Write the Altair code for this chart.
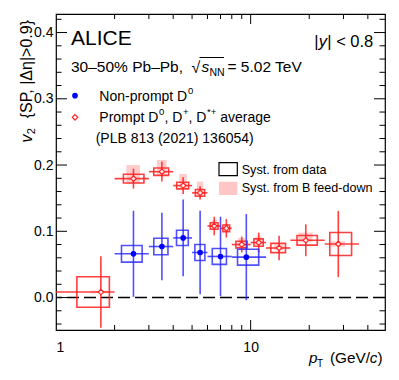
import altair as alt
import pandas as pd

FONT = "Liberation Sans"

# ---------------- data ----------------
# Non-prompt D0
np_pt = [2.5, 3.5, 4.5, 5.5, 7.0, 9.5]
np_lo = [2, 3, 4, 5, 6, 8]
np_hi = [3, 4, 5, 6, 8, 12]
np_v2 = [0.066, 0.077, 0.090, 0.068, 0.062, 0.061]
np_stat = [0.065, 0.051, 0.058, 0.063, 0.060, 0.065]
np_syst = [0.0125, 0.0125, 0.0115, 0.012, 0.012, 0.012]
np_box_lo = [2.17, 3.18, 4.16, 5.17, 6.35, 8.56]
np_box_hi = [2.77, 3.76, 4.78, 5.82, 7.51, 11.0]

# Prompt D0, D+, D*+ average (PLB 813 (2021) 136054)
p_pt = [1.7, 2.5, 3.5, 4.5, 5.5, 6.5, 7.5, 9.0, 11.0, 14.0, 19.2, 28.2]
p_lo = [1, 2, 3, 4, 5, 6, 7, 8, 10, 12, 16, 24]
p_hi = [2, 3, 4, 5, 6, 7, 8, 10, 12, 16, 24, 36]
p_v2 = [0.0083, 0.1795, 0.190, 0.169, 0.158, 0.108, 0.1045, 0.080, 0.083, 0.0748, 0.0864, 0.0808]
p_stat = [0.054, 0.015, 0.015, 0.0126, 0.010, 0.014, 0.014, 0.012, 0.015, 0.0184, 0.024, 0.050]
p_syst = [0.023, 0.0066, 0.0056, 0.005, 0.005, 0.005, 0.005, 0.005, 0.0055, 0.007, 0.0073, 0.0174]
p_box_lo = [1.28, 2.22, 3.18, 4.17, 5.2, 6.2, 7.2, 8.4, 10.4, 12.7, 17.3, 25.5]
p_box_hi = [1.88, 2.83, 3.79, 4.80, 5.8, 6.8, 7.8, 9.6, 11.6, 15.1, 22.0, 33.0]
p_fd_up = [0.002, 0.0205, 0.0177, 0.0176, 0.017, 0.009, 0.0065, 0.010, 0.009, 0.005, 0.0116, 0.004]
p_fd_dn = [0.002, 0.0075, 0.006, 0.005, 0.005, 0.0056, 0.0055, 0.004, 0.004, 0.003, 0.003, 0.004]

x_major = [10]
x_minor = [2, 3, 4, 5, 6, 7, 8, 9, 20, 30, 40]
y_major = [0.0, 0.1, 0.2, 0.3, 0.4]
y_minor = [-0.04, -0.02, 0.02, 0.04, 0.06, 0.08, 0.12, 0.14, 0.16, 0.18,
           0.22, 0.24, 0.26, 0.28, 0.32, 0.34, 0.36, 0.38, 0.42]

# ---------------- tables ----------------
npdf = pd.DataFrame({"pt": np_pt, "lo": np_lo, "hi": np_hi, "v2": np_v2,
                     "bl": np_box_lo, "bh": np_box_hi})
npdf["elo"] = npdf["v2"] - pd.Series(np_stat)
npdf["ehi"] = npdf["v2"] + pd.Series(np_stat)
npdf["slo"] = npdf["v2"] - pd.Series(np_syst)
npdf["shi"] = npdf["v2"] + pd.Series(np_syst)

pdf = pd.DataFrame({"pt": p_pt, "lo": p_lo, "hi": p_hi, "v2": p_v2,
                    "bl": p_box_lo, "bh": p_box_hi})
pdf["elo"] = pdf["v2"] - pd.Series(p_stat)
pdf["ehi"] = pdf["v2"] + pd.Series(p_stat)
pdf["slo"] = pdf["v2"] - pd.Series(p_syst)
pdf["shi"] = pdf["v2"] + pd.Series(p_syst)
pdf["flo"] = pdf["v2"] - pd.Series(p_fd_dn)
pdf["fhi"] = pdf["v2"] + pd.Series(p_fd_up)
w = pdf["hi"] - pdf["lo"]
pdf["fxl"] = pdf["pt"] - 0.2 * w
pdf["fxh"] = pdf["pt"] + 0.2 * w

W, H = 329, 316
OX, OY = 56, 14

xs = alt.Scale(type="log", domain=[1, 49], nice=False)
ys = alt.Scale(domain=[-0.049, 0.428], nice=False, zero=False)
xax = alt.Axis(values=[1, 10], format="~g", labelFont=FONT, labelFontSize=14,
               labelColor="black", ticks=False, domain=False, grid=False,
               title=None, labelPadding=10, labelFlush=True)
yax = alt.Axis(values=y_major, format=".1f", labelFont=FONT, labelFontSize=14,
               labelColor="black", ticks=False, domain=False, grid=False,
               title=None, labelPadding=3)


def X(f):
    return alt.X(f, type="quantitative", scale=xs, axis=xax)


def Y(f):
    return alt.Y(f, type="quantitative", scale=ys, axis=yax)


RED = "#ff1f1f"
BLUE = "#2424ff"
PINK = "#ffc6c6"

layers = []

# feed-down boxes
layers.append(alt.Chart(pdf).mark_rect(fill=PINK, opacity=0.9).encode(
    x=X("fxl"), x2="fxh", y=Y("flo"), y2="fhi"))

# zero line
zero = pd.DataFrame({"y": [0.0]})
layers.append(alt.Chart(zero).mark_rule(color="black", strokeWidth=1.5,
                                         strokeDash=[12, 5]).encode(y=Y("y")))


def series(df, color, op):
    out = []
    out.append(alt.Chart(df).mark_rect(filled=False, stroke=color, strokeWidth=1.6,
                                       opacity=op).encode(
        x=X("bl"), x2="bh", y=Y("slo"), y2="shi"))
    out.append(alt.Chart(df).mark_rule(color=color, strokeWidth=1.6, opacity=op).encode(
        x=X("pt"), y=Y("elo"), y2="ehi"))
    out.append(alt.Chart(df).mark_rule(color=color, strokeWidth=1.6, opacity=op).encode(
        x=X("lo"), x2="hi", y=Y("v2")))
    return out


layers += series(pdf, RED, 0.85)
layers += series(npdf, BLUE, 0.8)

layers.append(alt.Chart(pdf).mark_point(shape="diamond", filled=False, fill="#ffe6e6",
                                        fillOpacity=1, stroke=RED, strokeWidth=1.1,
                                        size=30, opacity=1).encode(x=X("pt"), y=Y("v2")))
layers.append(alt.Chart(npdf).mark_circle(color="#0000ff", size=32, opacity=1).encode(
    x=X("pt"), y=Y("v2")))

# ticks (inside the frame)
def xticks(vals, ln):
    d = pd.DataFrame({"t": vals})
    a = alt.Chart(d).mark_rule(color="black", strokeWidth=1).encode(
        x=X("t"), y=alt.value(H), y2=alt.value(H - ln))
    b = alt.Chart(d).mark_rule(color="black", strokeWidth=1).encode(
        x=X("t"), y=alt.value(0), y2=alt.value(ln))
    return [a, b]


def yticks(vals, ln):
    d = pd.DataFrame({"t": vals})
    a = alt.Chart(d).mark_rule(color="black", strokeWidth=1).encode(
        y=Y("t"), x=alt.value(0), x2=alt.value(ln))
    b = alt.Chart(d).mark_rule(color="black", strokeWidth=1).encode(
        y=Y("t"), x=alt.value(W), x2=alt.value(W - ln))
    return [a, b]


layers += xticks(x_major, 10) + xticks(x_minor, 5)
layers += yticks(y_major, 11) + yticks(y_minor, 5.5)

# ---------------- annotations ----------------
one = pd.DataFrame({"k": [0]})


def txt(s, x, y, size=14, align="left", style="normal", angle=0, baseline="alphabetic"):
    return alt.Chart(one).mark_text(text=s, align=align, baseline=baseline, font=FONT,
                                    fontSize=size, fontStyle=style, angle=angle,
                                    color="black").encode(
        x=alt.value(x - OX), y=alt.value(y - OY))


def box(x1, x2, y1, y2, **kw):
    return alt.Chart(one).mark_rect(**kw).encode(
        x=alt.value(x1 - OX), x2=alt.value(x2 - OX),
        y=alt.value(y1 - OY), y2=alt.value(y2 - OY))


ann = [
    txt("ALICE", 71, 45, size=21),
    txt("30–50% Pb–Pb,", 71, 71.7, size=15.5),
    txt("√", 191.5, 73, size=16),
    txt("s", 201.5, 71.7, size=15.5, style="italic"),
    txt("NN", 209.5, 75.5, size=10.5),
    txt("= 5.02 TeV", 227.5, 71.7, size=15.5),
    alt.Chart(one).mark_rule(color="black", strokeWidth=1).encode(
        x=alt.value(199.5 - OX), x2=alt.value(224 - OX), y=alt.value(57.5 - OY)),
    txt("| < 0.8", 373.3, 46.7, size=16.5, align="right"),
    txt("y", 327, 46.7, size=16.5, align="right", style="italic"),
    txt("|", 318.5, 46.7, size=16.5, align="right"),
    # legend
    alt.Chart(one).mark_circle(color="#0000ff", size=32, opacity=1).encode(
        x=alt.value(75 - OX), y=alt.value(95.7 - OY)),
    txt("Non-prompt D", 99.3, 100.7, size=14),
    txt("0", 188, 93.5, size=9.5),
    alt.Chart(one).mark_point(shape="diamond", filled=False, stroke=RED, strokeWidth=1.2,
                              size=30, opacity=1).encode(
        x=alt.value(75 - OX), y=alt.value(117.3 - OY)),
    txt("Prompt D", 99.3, 121.7, size=14),
    txt("0", 159, 114.5, size=9.5),
    txt(", D", 164.5, 121.7, size=14),
    txt("+", 183, 114.5, size=9.5),
    txt(", D", 188.5, 121.7, size=14),
    txt("*+", 207, 114.5, size=9.5),
    txt("average", 220.2, 121.7, size=14),
    txt("(PLB 813 (2021) 136054)", 95.7, 143, size=14),
    box(219, 237.3, 162.7, 175.7, filled=False, stroke="black", strokeWidth=1.2),
    box(219, 237.3, 181.7, 195, fill=PINK),
    txt("Syst. from data", 241.7, 173.5, size=12.6),
    txt("Syst. from B feed-down", 241.7, 191.7, size=12.6),
    # x title
    txt("p", 309, 363, size=15.3, style="italic"),
    txt("T", 317, 367, size=10),
    txt("(GeV/", 330, 363, size=15.3),
    txt("c", 369.8, 363, size=15.3, style="italic"),
    txt(")", 377.5, 363, size=15.3),
    # y title (rotated)
    txt("{SP, |Δη|>0.9}", 27, 20, size=16, align="right", angle=270, baseline="middle"),
    txt("2", 31.5, 128, size=11, align="right", angle=270, baseline="middle"),
    txt("v", 27, 134.5, size=16, align="right", angle=270, baseline="middle", style="italic"),
]
layers += ann

chart = alt.layer(*layers).properties(
    width=W, height=H,
    padding={"left": OX - 8, "top": OY - 8, "right": 6, "bottom": 44},
    autosize=alt.AutoSizeParams(type="none"),
    background="white",
).configure_view(stroke="black", strokeWidth=1.2)

chart.save("out.html", embed_options={"renderer": "svg", "actions": False})
